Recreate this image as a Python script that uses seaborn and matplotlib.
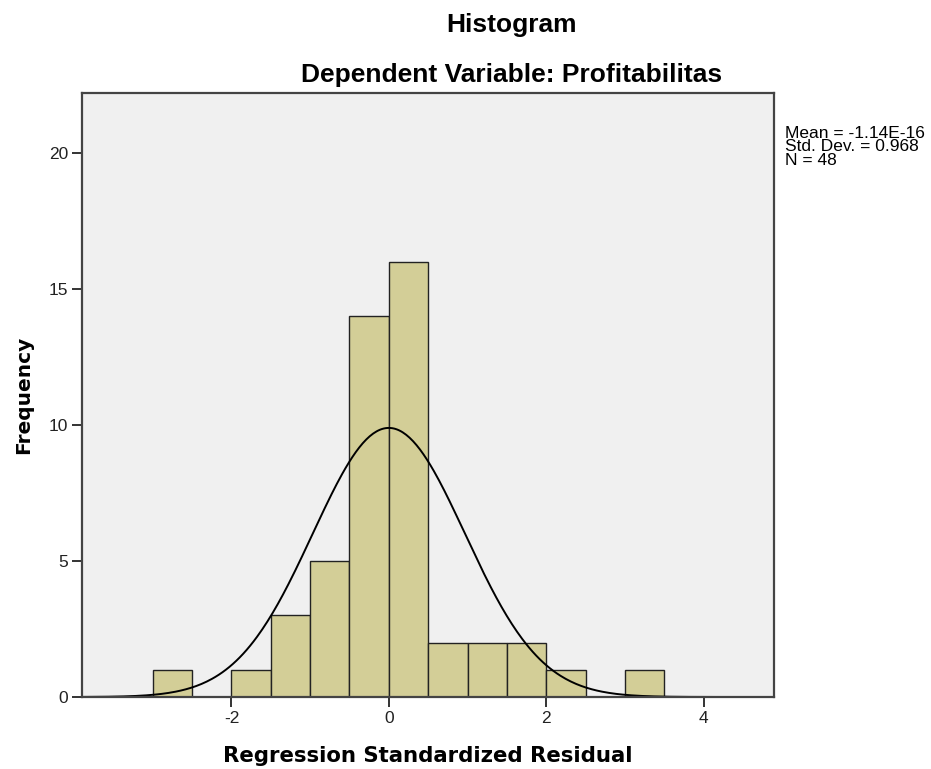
import numpy as np
import pandas as pd
import seaborn as sns
import matplotlib.pyplot as plt

# histogram of regression standardized residuals (SPSS style)
bin_edges = [-3.0, -2.5, -2.0, -1.5, -1.0, -0.5, 0.0, 0.5, 1.0, 1.5, 2.0, 2.5, 3.0, 3.5]
counts = [1, 0, 1, 3, 5, 14, 16, 2, 2, 2, 1, 0, 1]
mean = -1.14e-16
std_dev = 0.968
n_obs = 48
x_ticks = [-2, 0, 2, 4]
y_ticks = [0, 5, 10, 15, 20]

bin_width = bin_edges[1] - bin_edges[0]
centers = [(a + b) / 2 for a, b in zip(bin_edges[:-1], bin_edges[1:])]
df = pd.DataFrame({"resid": centers, "freq": counts})

# fitted normal curve scaled to frequencies
xs = np.linspace(-3.9, 4.89, 400)
ys = n_obs * bin_width * np.exp(-0.5 * ((xs - mean) / std_dev) ** 2) / (std_dev * np.sqrt(2 * np.pi))
curve = pd.DataFrame({"x": xs, "y": ys})

sns.set_style("ticks")
plt.rcParams["font.family"] = ["Liberation Sans", "DejaVu Sans"]
plt.rcParams["axes.unicode_minus"] = False
plt.rcParams["text.color"] = "black"
plt.rcParams["axes.labelcolor"] = "black"

fig = plt.figure(figsize=(9.31, 7.69), dpi=100)
ax = fig.add_axes([0.088, 0.0936, 0.743, 0.7854])
ax.set_facecolor("#F0F0F0")

sns.histplot(data=df, x="resid", weights="freq", bins=bin_edges, ax=ax,
             color="#D3CE97", edgecolor="#222222", linewidth=1.0, alpha=1)
sns.lineplot(data=curve, x="x", y="y", ax=ax, color="black", linewidth=1.4)

ax.set_xlim(-3.9, 4.89)
ax.set_ylim(0, 22.2)
ax.set_xticks(x_ticks)
ax.set_yticks(y_ticks)
ax.tick_params(axis="both", direction="out", length=7, width=1.4, color="#333333",
               labelsize=12.5, labelcolor="#222222", pad=3)
for side, sp in ax.spines.items():
    sp.set_visible(True)
    sp.set_color("#444444")
    sp.set_linewidth(1.6)

lab_font = dict(family="DejaVu Sans", fontweight="bold")
ax.set_xlabel("Regression Standardized Residual", labelpad=14.5, fontsize=15.3, **lab_font)
ax.set_ylabel("Frequency", labelpad=11, fontsize=14.5, **lab_font)

fig.text(0.549, 0.967, "Histogram", ha="center", va="center", fontsize=19, fontweight="bold")
fig.text(0.549, 0.902, "Dependent Variable: Profitabilitas", ha="center", va="center",
         fontsize=19, fontweight="bold")
fig.text(0.843, 0.836, f"Mean = -1.14E-16\nStd. Dev. = {std_dev:.3f}\nN = {n_obs}",
         ha="left", va="top", fontsize=12.5, linespacing=0.85)

fig.savefig("out.png", dpi=100)
